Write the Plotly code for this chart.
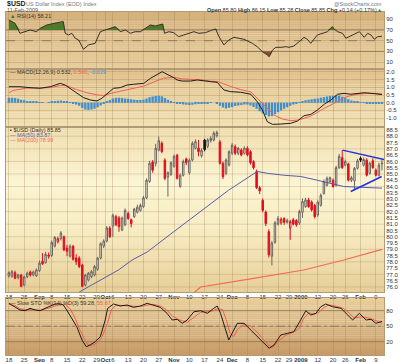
import plotly.graph_objects as go
import pandas as pd

W, H = 400, 362
FONT = "Liberation Sans, Arial, sans-serif"

# ---------------- data ----------------
holidays = ["2008-09-01", "2008-11-27", "2008-12-25", "2009-01-01", "2009-01-19"]
dates = [d for d in pd.bdate_range("2008-08-18", "2009-02-11") if d.strftime("%Y-%m-%d") not in holidays]
n = len(dates)

opens = [76.88, 76.85, 77.14, 76.75, 76.95, 76.15, 76.82, 77.20, 76.95, 76.90,
         77.30, 78.05, 77.95, 78.55, 78.50, 79.25, 79.60, 79.85, 80.00, 79.10,
         78.45, 79.25, 78.30, 78.30, 77.75, 76.15, 76.55, 76.82, 76.95, 77.40,
         78.30, 79.25, 79.65, 80.70, 80.85, 81.60, 81.50, 80.54, 80.95, 81.85,
         81.35, 81.60, 81.95, 82.10, 82.40, 83.10, 84.40, 85.95, 85.85, 86.90,
         87.45, 86.10, 84.75, 84.95, 85.60, 86.50, 84.00, 84.90, 86.20, 85.10,
         86.11, 87.05, 87.07, 86.45, 87.70, 87.20, 87.65, 87.70, 88.05, 87.55,
         85.85, 85.05, 85.71, 86.65, 87.17, 86.65, 86.91, 86.65, 87.05, 86.77,
         85.98, 85.20, 83.90, 82.90, 81.97, 80.40, 78.45, 79.55, 81.00, 81.10,
         81.45, 81.15, 80.70, 81.35, 81.30, 81.10, 81.95, 82.40, 82.93, 82.77,
         82.50, 81.73, 82.50, 83.45, 84.10, 84.40, 84.50, 84.10, 85.50, 86.30,
         85.70, 85.80, 84.50, 84.45, 85.45, 86.25, 85.70, 86.10, 85.05, 86.05,
         85.30, 84.90, 85.80]
highs = [77.25, 77.35, 77.30, 77.05, 77.05, 76.90, 77.22, 77.30, 77.30, 77.48,
         78.10, 78.70, 78.80, 78.75, 79.70, 80.05, 80.00, 80.45, 80.10, 79.35,
         79.40, 79.35, 78.60, 78.45, 77.85, 77.05, 77.20, 77.35, 77.75, 78.40,
         79.55, 79.80, 80.85, 80.85, 81.85, 81.75, 81.65, 81.60, 82.25, 82.00,
         81.45, 82.30, 82.55, 82.65, 83.25, 84.65, 86.05, 86.10, 87.40, 87.97,
         87.60, 86.25, 85.20, 86.00, 86.55, 86.60, 85.05, 86.15, 86.30, 86.25,
         87.60, 87.75, 87.70, 87.05, 87.80, 87.85, 88.00, 88.40, 88.46, 87.70,
         86.00, 86.25, 86.90, 87.45, 87.35, 87.15, 87.05, 87.20, 87.20, 86.90,
         86.10, 85.35, 84.05, 83.05, 82.10, 80.60, 79.65, 81.25, 81.65, 81.55,
         81.55, 81.45, 81.35, 81.50, 81.40, 82.15, 83.05, 83.10, 83.10, 82.90,
         82.60, 82.90, 83.45, 84.55, 84.80, 84.80, 84.65, 85.65, 86.60, 86.90,
         86.15, 85.90, 84.85, 85.55, 86.20, 86.40, 86.30, 86.25, 85.95, 86.25,
         85.45, 85.90, 86.15]
lows = [76.75, 76.75, 76.62, 76.60, 75.98, 76.05, 76.70, 76.82, 76.85, 76.80,
        77.20, 77.75, 77.85, 78.25, 78.40, 79.15, 79.45, 79.70, 78.85, 78.45,
        78.35, 78.10, 77.75, 77.50, 75.98, 76.05, 76.45, 76.70, 76.85, 77.30,
        78.20, 79.10, 79.55, 79.90, 80.00, 80.85, 80.40, 80.45, 80.85, 81.35,
        80.75, 81.50, 81.85, 82.00, 82.30, 83.00, 84.30, 85.10, 85.60, 86.80,
        86.65, 84.50, 83.20, 84.85, 85.50, 84.55, 83.90, 84.80, 85.70, 84.95,
        86.00, 86.95, 86.40, 86.30, 86.80, 87.05, 87.50, 87.60, 87.90, 85.75,
        84.60, 84.90, 85.60, 86.50, 86.50, 86.50, 86.40, 86.55, 86.40, 85.75,
        85.35, 83.80, 83.40, 81.95, 80.85, 78.35, 77.72, 79.45, 80.90, 80.95,
        80.95, 81.05, 79.75, 80.90, 80.80, 80.95, 81.50, 82.30, 82.30, 82.00,
        81.45, 81.60, 82.40, 83.35, 84.00, 84.25, 83.90, 84.00, 85.40, 85.40,
        85.60, 84.40, 84.35, 83.70, 85.35, 85.95, 85.60, 84.80, 84.95, 85.40,
        84.80, 84.80, 85.28]
closes = [77.14, 77.22, 76.70, 76.95, 76.05, 76.80, 77.10, 76.95, 77.20, 77.36,
          77.90, 77.85, 78.60, 78.45, 79.55, 79.95, 79.85, 80.30, 78.95, 78.85,
          79.25, 78.20, 78.00, 77.62, 76.05, 76.95, 77.10, 77.22, 77.62, 78.30,
          79.45, 79.65, 80.70, 80.00, 81.70, 80.95, 80.80, 81.50, 82.10, 81.45,
          81.05, 82.20, 82.35, 82.50, 83.10, 84.50, 85.85, 85.30, 87.05, 87.65,
          86.78, 84.65, 85.10, 85.90, 86.40, 84.65, 84.90, 86.00, 85.90, 86.10,
          87.44, 87.57, 86.78, 86.88, 86.95, 87.70, 87.83, 88.25, 88.30, 85.85,
          84.78, 86.11, 86.77, 87.30, 86.65, 87.05, 86.51, 87.05, 86.51, 85.90,
          85.50, 83.90, 83.65, 82.10, 81.05, 78.55, 79.50, 81.10, 81.45, 81.40,
          81.15, 81.30, 81.20, 81.00, 80.95, 82.00, 82.80, 82.93, 82.40, 82.13,
          81.60, 82.77, 83.30, 84.40, 84.65, 84.70, 84.00, 85.50, 86.40, 85.50,
          86.00, 84.50, 84.70, 85.45, 86.05, 86.10, 86.15, 84.90, 85.85, 85.50,
          84.90, 85.71, 85.85]

ma50_x = [23, 35.8, 40.3, 45.3, 53.9, 62.7, 71.8, 81.2, 84.5, 89.9, 95.4, 100.9, 109.5, 122]
ma50_v = [75.6, 77.35, 78.15, 78.8, 80.4, 82.0, 83.7, 85.2, 85.05, 84.9, 84.8, 84.5, 84.0, 83.87]
ma200_x = [60.5, 62.7, 79.0, 96.4, 109.5, 122]
ma200_v = [75.55, 76.0, 76.65, 77.35, 78.15, 78.99]

tri_upper_x = [109.1, 122.7]
tri_upper_v = [86.9, 86.15]
tri_lower_x = [111.8, 121.9]
tri_lower_v = [83.6, 84.8]

rsi_x = [0, 2.0, 3.6, 5.3, 6.9, 9.1, 10.2, 12.4, 14.6, 17.3, 17.8, 18.4, 19.5, 20.6, 21.7, 22.8,
         24.4, 26.0, 28.2, 29.9, 31.5, 33.1, 34.8, 36.4, 38.1, 39.7, 41.3, 43.0, 44.6, 46.3,
         47.9, 49.5, 50.3, 50.9, 52.3, 53.9, 55.5, 57.2, 58.8, 60.5, 62.1, 64.3, 65.9, 67.0,
         67.6, 68.7, 70.3, 71.9, 73.6, 75.2, 76.9, 78.5, 79.6, 81.2, 82.9, 84.5, 85.1, 86.2,
         87.3, 89.0, 90.6, 91.6, 93.2, 94.9, 96.5, 97.6, 98.7, 100.9, 102.6, 104.2, 105.8,
         106.4, 107.5, 109.1, 110.2, 111.8, 113.5, 114.6, 116.2, 117.3, 118.4, 119.5, 120.6, 122]
rsi_v = [88.7, 82.5, 63.8, 66.8, 70.0, 66.8, 73.2, 79.4, 82.5, 85.5, 85.5, 63.8, 60.7, 63.8,
         54.5, 51.3, 33.9, 42.0, 45.1, 66.8, 70.0, 73.2, 76.2, 66.8, 70.0, 63.8, 66.8, 66.8,
         73.2, 79.4, 77.5, 79.4, 81.2, 63.8, 66.8, 65.0, 57.5, 60.7, 63.8, 66.8, 63.8, 65.0,
         68.7, 70.0, 72.0, 57.5, 42.0, 51.3, 56.3, 54.5, 52.6, 48.1, 45.1, 38.8, 29.4, 23.3,
         20.0, 32.6, 37.6, 37.6, 38.8, 37.6, 40.1, 48.1, 56.3, 52.6, 45.1, 60.7, 63.8, 66.8,
         76.2, 71.3, 66.8, 63.8, 54.5, 58.8, 63.8, 66.8, 56.3, 63.8, 60.7, 52.6, 57.5, 58.2]

macd_x = [0, 3.6, 6.9, 10.2, 13.5, 16.8, 18.4, 20.0, 22.2, 24.4, 26.6, 28.8, 30.4, 32.1, 34.2,
          36.4, 38.6, 40.8, 44.1, 46.3, 48.5, 50.1, 51.7, 53.4, 55.0, 56.7, 59.4, 61.6, 66.0,
          68.1, 70.3, 72.5, 75.8, 79.1, 81.2, 82.9, 84.5, 86.2, 88.9, 92.2, 94.4, 96.5, 98.7,
          100.9, 103.1, 105.3, 107.5, 109.6, 111.8, 114.0, 116.2, 118.4, 120.6, 122]
macd_v = [1.04, 1.04, 0.98, 0.94, 1.04, 1.26, 1.15, 0.94, 0.61, 0.33, 0.18, 0.11, 0.29, 0.61,
          0.94, 0.98, 1.15, 1.20, 1.26, 1.59, 1.85, 2.02, 1.85, 1.69, 1.48, 1.41, 1.41, 1.48,
          1.37, 1.33, 0.83, 0.72, 0.68, 0.55, 0.07, -0.48, -1.24, -1.41, -1.39, -1.34, -1.19,
          -0.85, -0.76, -0.48, -0.10, 0.18, 0.55, 0.61, 0.55, 0.61, 0.65, 0.61, 0.55, 0.53]
signal_x = [0, 1.4, 5.8, 10.2, 13.5, 16.8, 19.0, 22.2, 25.5, 28.8, 31.0, 34.2, 37.6, 40.8, 44.1,
            47.4, 50.6, 53.9, 56.7, 59.4, 62.7, 66.0, 68.5, 72.5, 75.8, 79.1, 82.2, 84.5, 86.6,
            89.4, 92.2, 94.4, 96.5, 98.7, 100.9, 103.1, 105.3, 107.5, 109.6, 111.8, 114.0,
            117.3, 120.6, 122]
signal_v = [0.65, 0.80, 0.95, 0.94, 0.98, 1.12, 1.10, 0.85, 0.65, 0.51, 0.47, 0.65, 0.80, 0.97,
            1.08, 1.35, 1.60, 1.65, 1.55, 1.52, 1.50, 1.40, 1.36, 1.06, 0.85, 0.70, 0.12, -0.36,
            -0.80, -1.06, -1.17, -1.13, -1.02, -0.87, -0.63, -0.36, -0.15, 0.11, 0.33, 0.46,
            0.55, 0.61, 0.61, 0.56]
macd_hist = [0.33, 0.32, 0.30, 0.25, 0.20, 0.16, 0.10, 0.08, 0.06, 0.05,
             0.03, 0.02, 0.00, 0.03, 0.06, 0.09, 0.12, 0.14, 0.10, 0.05,
             0.02, -0.05, -0.12, -0.20, -0.35, -0.45, -0.48, -0.45, -0.40, -0.30,
             -0.18, -0.05, 0.08, 0.18, 0.27, 0.32, 0.33, 0.30, 0.28, 0.25,
             0.22, 0.20, 0.18, 0.17, 0.20, 0.28, 0.36, 0.40, 0.44, 0.46,
             0.42, 0.30, 0.20, 0.10, 0.04, -0.02, -0.08, -0.12, -0.14, -0.15,
             -0.13, -0.10, -0.07, -0.05, -0.03, -0.02, -0.01, 0.00, -0.05, -0.20,
             -0.32, -0.37, -0.33, -0.28, -0.22, -0.18, -0.15, -0.12, -0.12, -0.18,
             -0.28, -0.40, -0.55, -0.68, -0.80, -0.90, -0.88, -0.75, -0.62, -0.50,
             -0.40, -0.30, -0.20, -0.12, -0.06, 0.02, 0.10, 0.16, 0.20, 0.22,
             0.25, 0.28, 0.32, 0.36, 0.40, 0.43, 0.46, 0.48, 0.45, 0.38,
             0.30, 0.22, 0.15, 0.10, 0.06, 0.03, 0.01, -0.02, -0.03, -0.04,
             -0.04, -0.03, -0.03]

stok_x = [0, 2.0, 3.6, 5.3, 6.9, 8.6, 10.2, 11.8, 13.5, 15.1, 16.8, 17.8, 18.9, 20.6, 22.2,
          23.9, 25.3, 26.6, 28.2, 29.9, 31.5, 32.3, 34.2, 36.4, 38.6, 40.8, 43.0, 45.2, 47.3,
          49.5, 51.7, 53.4, 55.0, 56.7, 58.3, 60.5, 62.7, 64.9, 67.0, 68.1, 69.2, 70.9, 71.9,
          73.0, 74.7, 76.9, 79.1, 81.2, 83.4, 85.1, 86.7, 88.9, 91.1, 93.2, 95.4, 97.1, 98.7,
          100.4, 102.0, 103.6, 105.8, 108.6, 110.8, 112.4, 114.6, 116.8, 118.4, 120.0, 122]
stok_v = [94.3, 87.7, 81.4, 80.0, 84.6, 81.4, 80.0, 84.6, 89.1, 93.0, 93.0, 91.0, 81.4, 65.3,
          49.0, 23.3, 10.4, 13.7, 20.0, 29.7, 62.0, 84.6, 93.0, 89.1, 91.0, 86.6, 89.1, 94.3,
          91.0, 86.6, 75.0, 62.0, 63.4, 55.6, 62.0, 78.0, 80.0, 75.0, 84.6, 89.1, 75.0, 39.4,
          23.3, 36.3, 55.6, 55.6, 42.7, 29.7, 16.9, 7.3, 13.7, 33.0, 36.3, 39.4, 62.0, 80.0,
          71.7, 75.0, 87.7, 93.0, 87.7, 84.6, 71.7, 62.0, 75.0, 62.0, 63.4, 55.6, 59.28]
stod_x = [0, 2.0, 3.6, 5.3, 6.9, 8.6, 10.2, 11.8, 13.5, 15.1, 16.8, 18.4, 20.0, 21.7, 23.3,
          25.0, 25.9, 27.2, 28.9, 30.5, 32.2, 33.5, 35.1, 37.1, 39.0, 41.0, 43.0, 45.3, 47.6,
          49.9, 51.8, 53.5, 55.1, 56.8, 58.4, 60.7, 62.7, 64.9, 66.9, 68.2, 69.9, 71.2, 72.2,
          73.5, 74.8, 76.8, 79.1, 81.3, 83.3, 84.9, 86.3, 88.2, 90.5, 92.8, 94.8, 96.4, 98.1,
          99.7, 101.4, 103.0, 104.6, 106.9, 109.2, 111.2, 112.8, 115.1, 117.1, 118.7, 120.4, 122]
stod_v = [92, 90, 84, 82, 82, 82, 81, 83, 86, 90, 92, 92, 84, 65, 42, 22, 14, 13, 18, 30,
          55, 82, 91, 90, 89, 88, 88, 91, 92, 88, 80, 70, 64, 60, 58, 68, 77, 78, 80, 84,
          82, 60, 38, 30, 44, 54, 50, 38, 25, 13, 9, 22, 32, 38, 45, 65, 76, 73, 77, 86,
          91, 89, 85, 76, 66, 68, 67, 64, 60, 55.67]

tick_dates = ["2008-08-18", "2008-08-25", "2008-09-02", "2008-09-08", "2008-09-15", "2008-09-22",
              "2008-09-29", "2008-10-01", "2008-10-06", "2008-10-13", "2008-10-20", "2008-10-27",
              "2008-11-03", "2008-11-10", "2008-11-17", "2008-11-24", "2008-12-01", "2008-12-08",
              "2008-12-15", "2008-12-22", "2008-12-29", "2009-01-02", "2009-01-12", "2009-01-20",
              "2009-01-26", "2009-02-02", "2009-02-09"]
tick_text = ["18", "25", "<b>Sep</b>", "8", "15", "22", "29", "<b>Oct</b>", "6", "13", "20", "27",
             "<b>Nov</b>", "10", "17", "24", "<b>Dec</b>", "8", "15", "22", "29", "<b>2009</b>",
             "12", "20", "26", "<b>Feb</b>", "9"]
# small label nudges (in trading days) so adjacent labels do not collide
tick_nudge = {"2008-09-29": -0.3, "2008-10-01": 0.6, "2008-12-29": -0.4, "2009-01-02": 0.5}
price_ticks = [76.0 + 0.5 * k for k in range(26)]
macd_ticks = [-1.0, -0.5, 0.0, 0.5, 1.0, 1.5, 2.0]

# ---------------- layout geometry ----------------
date_str = [d.strftime("%Y-%m-%d") for d in dates]
tick_idx = [date_str.index(t) + tick_nudge.get(t, 0) for t in tick_dates]
idx = list(range(n))

XL, XR = 6, 384
panels = {"rsi": (12, 69), "macd": (69, 126.5), "price": (126.5, 292), "sto": (298, 355)}


def dom(name):
    t, b = panels[name]
    return [1 - b / H, 1 - t / H]


def hexrgb(h):
    h = h.lstrip("#")
    return tuple(int(h[i:i + 2], 16) for i in (0, 2, 4))


def mix(stops, f):
    for k in range(len(stops) - 1):
        f0, c0 = stops[k]
        f1, c1 = stops[k + 1]
        if f <= f1:
            t = 0 if f1 == f0 else (f - f0) / (f1 - f0)
            a, b = hexrgb(c0), hexrgb(c1)
            return "rgb(%d,%d,%d)" % tuple(round(a[j] + (b[j] - a[j]) * t) for j in range(3))
    return "rgb(%d,%d,%d)" % hexrgb(stops[-1][1])


gradients = {
    "rsi": [(0, "#d5b07a"), (1, "#e8cf9e")],
    "macd": [(0, "#e1c28e"), (1, "#f0dead")],
    "price": [(0, "#efdcaa"), (0.35, "#fbf4d0"), (0.6, "#f8eec6"), (1, "#e7cf98")],
    "sto": [(0, "#e9d09c"), (1, "#c79a66")],
}

shapes = []
for name, (t, b) in panels.items():
    nb = int((b - t) / 2) + 1
    for k in range(nb):
        y0 = t + (b - t) * k / nb
        y1 = t + (b - t) * (k + 1) / nb
        shapes.append(dict(type="rect", xref="paper", yref="paper", x0=XL / W, x1=XR / W,
                           y0=1 - y1 / H, y1=1 - y0 / H + 0.0005, line=dict(width=0),
                           fillcolor=mix(gradients[name], (k + 0.5) / nb), layer="below"))

REF = "#9c8462"


def hline(yref, v, dash="solid", color=REF, width=1):
    shapes.append(dict(type="line", xref="paper", yref=yref, x0=XL / W, x1=XR / W, y0=v, y1=v,
                       line=dict(color=color, width=width, dash=dash), layer="between"))


hline("y", 70)
hline("y", 30)
hline("y", 50, dash="dash", color="#8a7a66")
hline("y4", 80)
hline("y4", 20)
hline("y4", 50, dash="dashdot", color="#8a7a66")
for v in range(76, 89):
    shapes.append(dict(type="line", xref="paper", yref="y3", x0=XL / W, x1=XR / W, y0=v, y1=v,
                       line=dict(color="rgba(160,130,90,0.28)", width=1), layer="below"))

# ---------------- traces ----------------
fig = go.Figure()

# RSI fills
fig.add_trace(go.Scatter(x=rsi_x, y=[70] * len(rsi_x), mode="lines", line=dict(width=0),
                         xaxis="x", yaxis="y", hoverinfo="skip", showlegend=False))
fig.add_trace(go.Scatter(x=rsi_x, y=[max(v, 70) for v in rsi_v], mode="lines", line=dict(width=0),
                         fill="tonexty", fillcolor="#4e7a2c", xaxis="x", yaxis="y",
                         hoverinfo="skip", showlegend=False))
fig.add_trace(go.Scatter(x=rsi_x, y=[30] * len(rsi_x), mode="lines", line=dict(width=0),
                         xaxis="x", yaxis="y", hoverinfo="skip", showlegend=False))
fig.add_trace(go.Scatter(x=rsi_x, y=[min(v, 30) for v in rsi_v], mode="lines", line=dict(width=0),
                         fill="tonexty", fillcolor="#8e4c34", xaxis="x", yaxis="y",
                         hoverinfo="skip", showlegend=False))
fig.add_trace(go.Scatter(x=rsi_x, y=rsi_v, mode="lines", line=dict(color="#3a3228", width=1),
                         xaxis="x", yaxis="y", name="RSI(14)", showlegend=False))

# MACD
fig.add_trace(go.Bar(x=idx, y=macd_hist, marker=dict(color="#3f8fd0", line=dict(width=0)),
                     width=0.75, xaxis="x2", yaxis="y2", name="Hist", showlegend=False))
fig.add_trace(go.Scatter(x=signal_x, y=signal_v, mode="lines", line=dict(color="#f0604c", width=1),
                         xaxis="x2", yaxis="y2", name="Signal", showlegend=False))
fig.add_trace(go.Scatter(x=macd_x, y=macd_v, mode="lines", line=dict(color="#1e1a16", width=1),
                         xaxis="x2", yaxis="y2", name="MACD", showlegend=False))

# Price
up = [i for i in idx if i == 0 or closes[i] >= closes[i - 1]]
dn = [i for i in idx if i > 0 and closes[i] < closes[i - 1]]
for grp, col_hollow, col_fill in ((up, "#6a6560", "#111111"), (dn, "#e0101e", "#e0101e")):
    fig.add_trace(go.Candlestick(
        x=grp, open=[opens[i] for i in grp], high=[highs[i] for i in grp],
        low=[lows[i] for i in grp], close=[closes[i] for i in grp],
        increasing=dict(line=dict(color=col_hollow, width=1), fillcolor="rgba(255,255,255,0.6)"),
        decreasing=dict(line=dict(color=col_fill, width=1), fillcolor=col_fill),
        whiskerwidth=0, xaxis="x3", yaxis="y3", showlegend=False, name="$USD"))
fig.add_trace(go.Scatter(x=ma50_x, y=ma50_v, mode="lines", line=dict(color="#5b5ba8", width=1),
                         xaxis="x3", yaxis="y3", name="MA(50)", showlegend=False))
fig.add_trace(go.Scatter(x=ma200_x, y=ma200_v, mode="lines", line=dict(color="#f26a58", width=1.2),
                         xaxis="x3", yaxis="y3", name="MA(200)", showlegend=False))
for tx, tv in ((tri_upper_x, tri_upper_v), (tri_lower_x, tri_lower_v)):
    fig.add_trace(go.Scatter(x=tx, y=tv, mode="lines", line=dict(color="#2030e0", width=1.5),
                             xaxis="x3", yaxis="y3", hoverinfo="skip", showlegend=False))

# Stochastics
fig.add_trace(go.Scatter(x=stod_x, y=stod_v, mode="lines", line=dict(color="#f0604c", width=1),
                         xaxis="x4", yaxis="y4", name="%D", showlegend=False))
fig.add_trace(go.Scatter(x=stok_x, y=stok_v, mode="lines", line=dict(color="#1e1a16", width=1),
                         xaxis="x4", yaxis="y4", name="%K", showlegend=False))

# ---------------- axes ----------------
xr = [-0.95, 122.66]
LINE = "#b09a78"
GRID = "rgba(150,120,80,0.28)"
tickfont = dict(family=FONT, size=6, color="#333333")


def xax(anchor, labels, match=True):
    d = dict(range=xr, domain=[XL / W, XR / W], anchor=anchor, tickmode="array",
             tickvals=tick_idx, ticktext=tick_text, showticklabels=labels, ticks="",
             tickangle=0, tickfont=tickfont, showgrid=True, gridcolor=GRID, gridwidth=1,
             zeroline=False, showline=True, linecolor=LINE, linewidth=1, mirror=True,
             rangeslider=dict(visible=False), fixedrange=True, ticklabelstandoff=-1)
    if match:
        d["matches"] = "x"
    return d


def yax(anchor, name, rng, tv, tt=None):
    d = dict(domain=dom(name), range=rng, anchor=anchor, side="right", tickmode="array",
             tickvals=tv, ticks="", tickfont=tickfont, showgrid=True, gridcolor=GRID,
             gridwidth=1, zeroline=False, showline=True, linecolor=LINE, linewidth=1,
             mirror=True, fixedrange=True)
    if tt is not None:
        d["ticktext"] = tt
    return d


fig.update_layout(
    width=W, height=H, margin=dict(l=0, r=0, t=0, b=0),
    paper_bgcolor="white", plot_bgcolor="rgba(0,0,0,0)",
    boxmode="overlay", bargap=0.25, hovermode=False,
    font=dict(family=FONT, size=6, color="#333333"),
    xaxis=xax("y", False, match=False),
    xaxis2=xax("y2", False),
    xaxis3=xax("y3", True),
    xaxis4=xax("y4", True),
    yaxis=yax("x", "rsi", [-2.9, 103.6], [10, 30, 50, 70, 90]),
    yaxis2=yax("x2", "macd", [-1.55, 2.195], macd_ticks, ["%.1f" % v for v in macd_ticks]),
    yaxis3=yax("x3", "price", [75.6, 88.78], price_ticks, ["%.1f" % v for v in price_ticks]),
    yaxis4=yax("x4", "sto", [-5.7, 104.6], [20, 50, 80]),
    shapes=shapes,
    showlegend=False,
)
fig.update_layout(yaxis3=dict(showgrid=False))


def note(text, x, y, size=5.5, color="#333333", anchor="left"):
    fig.add_annotation(text=text, x=x / W, y=1 - y / H, xref="paper", yref="paper",
                       xanchor=anchor, yanchor="middle", showarrow=False,
                       font=dict(family=FONT, size=size, color=color))


note("<b>$USD</b>", 5, 4, size=7, color="#222222")
note("US Dollar Index (EOD) Index", 24, 4.2, color="#777777")
note("11-Feb-2009", 5, 10, color="#555555")
note("@StockCharts.com", 384, 3.5, color="#777777", anchor="right")
note("<b>Open</b> 85.80 <b>High</b> 86.15 <b>Low</b> 85.28 <b>Close</b> 85.85 "
     "<b>Chg</b> +0.14 (+0.17%)<span style='color:#2a8a2a'>▲</span>", 384, 10, anchor="right")
note("<span style='color:#3c6a22'>▲</span> RSI(14) 58.21", 8, 15.5, color="#3a3228")
note("— MACD(12,26,9) 0.532, <span style='color:#f0604c'>0.560</span>, "
     "<span style='color:#3f8fd0'>-0.029</span>", 8, 72, color="#3a3228")
note("▪ $USD (Daily) 85.85", 8, 130.5, color="#3a3228")
note("<span style='color:#5b5ba8'>— MA(50) 83.87</span>", 8, 135)
note("<span style='color:#f26a58'>— MA(200) 78.99</span>", 8, 139.5)
note("— Slow STO %K(14) %D(3) 59.28, <span style='color:#f0604c'>55.67</span>", 8, 302.5,
     color="#3a3228")

fig.write_html("out.html", config={"displayModeBar": False},
               post_script="document.body.style.margin='0px';document.body.style.overflow='hidden';")
